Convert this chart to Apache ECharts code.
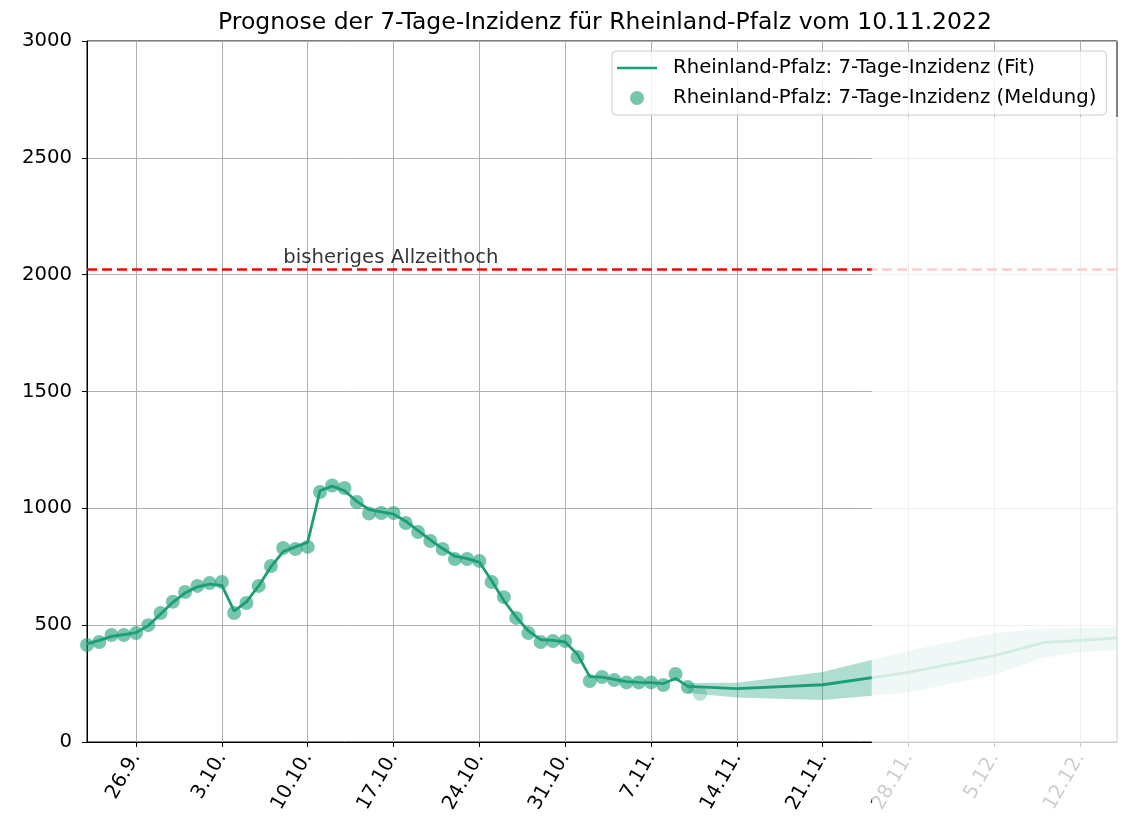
<!DOCTYPE html>
<html>
<head>
<meta charset="utf-8">
<script src="https://cdn.jsdelivr.net/npm/echarts@6/dist/echarts.min.js"></script>
<style>
html,body{margin:0;padding:0;background:#fff}
#chart{width:1123px;height:819px}
</style>
</head>
<body>
<div id="chart"></div>
<script>
var teal = '#1b9e77';
var schrift = 'DejaVu Sans';

// Meldungen der 7-Tage-Inzidenz, täglich ab 22.9.2022
var meldungStart = '2022-09-22';
var meldung = [415, 428, 458, 458, 466, 500, 552, 600, 642,
    668, 680, 685, 552, 595, 668, 753, 830, 826, 835,
    1070, 1098, 1087, 1027, 978, 980, 980, 937, 899, 860,
    826, 783, 783, 775, 685, 620, 531, 466, 428, 432, 432,
    364, 261, 278, 265, 255, 255, 255, 244, 291, 235];
// letzte (noch unvollständige) Meldung
var meldungVorlaeufigDatum = '2022-11-11';
var meldungVorlaeufig = 205;

// Fit über die Meldungen, gleicher Zeitraum
var fitHistorie = [420, 435, 452, 460, 468, 498, 548, 598, 638,
    664, 676, 670, 560, 600, 668, 750, 815, 835, 855,
    1075, 1095, 1075, 1030, 995, 985, 975, 945, 905, 865,
    828, 795, 785, 770, 690, 605, 535, 475, 438, 435, 428,
    375, 280, 278, 268, 258, 255, 254, 250, 272, 238];

// Prognose
var prognoseDaten = ['2022-11-10', '2022-11-14', '2022-11-21', '2022-11-28', '2022-12-05', '2022-12-09', '2022-12-12', '2022-12-15'];
var prognoseFit  = [238, 228, 245, 298, 370, 425, 435, 445];
var bandUnten    = [210, 190, 180, 212, 287, 360, 385, 394];
var bandOben     = [252, 254, 300, 390, 466, 485, 488, 490];

var allzeithoch = 2024;
var allzeithochText = 'bisheriges Allzeithoch';
var allzeithochTextDatum = '2022-10-08';

var tickDaten = ['2022-09-26', '2022-10-03', '2022-10-10', '2022-10-17', '2022-10-24', '2022-10-31',
    '2022-11-07', '2022-11-14', '2022-11-21', '2022-11-28', '2022-12-05', '2022-12-12'];
var xMin = '2022-09-22';
var xMax = '2022-12-15';
var ausblendenAb = '2022-11-25';

var nameFit = 'Rheinland-Pfalz: 7-Tage-Inzidenz (Fit)';
var nameMeldung = 'Rheinland-Pfalz: 7-Tage-Inzidenz (Meldung)';

function tag(s){
    var p = s.split('-');
    return new Date(+p[0], p[1]-1, +p[2]).getTime();
}
var DAY = 86400000;

var meldungDaten = [];
for(var i=0;i<meldung.length;i++){
    meldungDaten.push([tag(meldungStart)+i*DAY, meldung[i]]);
}
var fitDaten = [];
for(var i=0;i<fitHistorie.length;i++){
    fitDaten.push([tag(meldungStart)+i*DAY, fitHistorie[i]]);
}
for(var i=1;i<prognoseDaten.length;i++){
    fitDaten.push([tag(prognoseDaten[i]), prognoseFit[i]]);
}
var bandDaten = [];
for(var i=0;i<prognoseDaten.length;i++){
    bandDaten.push([tag(prognoseDaten[i]), bandUnten[i], bandOben[i]]);
}
var ticks = tickDaten.map(tag);

var myChart = echarts.init(document.getElementById('chart'), null, {renderer:'canvas'});

var option = {
    animation: false,
    backgroundColor: '#fff',
    textStyle: {fontFamily: schrift},
    title: {
        text: 'Prognose der 7-Tage-Inzidenz für Rheinland-Pfalz vom 10.11.2022',
        left: 213, top: 6,
        textStyle: {fontFamily: schrift, fontSize: 23.5, fontWeight: 'normal', color: '#000'}
    },
    grid: {
        left: 87, right: 6, top: 41, bottom: 77,
        show: true, borderColor: '#000', borderWidth: 1, backgroundColor: 'transparent'
    },
    legend: {
        orient: 'vertical',
        left: 612, top: 51,
        padding: [7, 10, 7, 5],
        itemGap: 10,
        itemWidth: 40, itemHeight: 14,
        backgroundColor: 'rgba(255,255,255,0.8)',
        borderColor: '#cccccc', borderWidth: 1, borderRadius: 4,
        textStyle: {fontFamily: schrift, fontSize: 19.7, color: '#000', padding: [0,0,0,11]},
        data: [
            {name: nameFit, icon: 'path://M0,0 L40,0 L40,2.5 L0,2.5 Z'},
            {name: nameMeldung, icon: 'circle'}
        ]
    },
    xAxis: {
        type: 'value',
        min: tag(xMin), max: tag(xMax),
        axisLine: {show: true, lineStyle: {color: '#000', width: 1}},
        axisTick: {show: true, inside: false, length: 5, customValues: ticks, lineStyle: {color: '#000'}},
        axisLabel: {
            customValues: ticks,
            rotate: 60, margin: 12,
            fontFamily: schrift, fontSize: 19.7, color: '#000',
            formatter: function(v){
                var d = new Date(v);
                return d.getDate() + '.' + (d.getMonth()+1) + '.';
            }
        },
        splitLine: {show: true, lineStyle: {color: '#b0b0b0', width: 1}}
    },
    yAxis: {
        type: 'value',
        min: 0, max: 3000, interval: 500,
        axisLine: {show: true, lineStyle: {color: '#000', width: 1}},
        axisTick: {show: true, inside: false, length: 5, lineStyle: {color: '#000'}},
        axisLabel: {
            margin: 15, fontFamily: schrift, fontSize: 19.7, color: '#000',
            formatter: function(v){ return String(v); }
        },
        splitLine: {show: true, lineStyle: {color: '#b0b0b0', width: 1}}
    },
    series: [
        {
            name: 'Band',
            type: 'custom',
            z: 1,
            clip: true,
            silent: true,
            data: bandDaten,
            renderItem: function(params, api){
                if(params.dataIndex !== 0) return null;
                var pts = [];
                for(var i=0;i<bandDaten.length;i++){
                    pts.push(api.coord([bandDaten[i][0], bandDaten[i][2]]));
                }
                for(var i=bandDaten.length-1;i>=0;i--){
                    pts.push(api.coord([bandDaten[i][0], bandDaten[i][1]]));
                }
                return {
                    type: 'polygon',
                    shape: {points: pts},
                    style: {fill: teal, opacity: 0.35}
                };
            }
        },
        {
            name: nameMeldung,
            type: 'scatter',
            z: 2,
            symbol: 'circle',
            symbolSize: 14,
            itemStyle: {color: teal, opacity: 0.6},
            data: meldungDaten
        },
        {
            name: 'vorlaeufig',
            type: 'scatter',
            z: 2,
            symbol: 'circle',
            symbolSize: 14,
            itemStyle: {color: teal, opacity: 0.3},
            data: [[tag(meldungVorlaeufigDatum), meldungVorlaeufig]]
        },
        {
            name: nameFit,
            type: 'line',
            z: 3,
            symbol: 'none',
            lineStyle: {color: teal, width: 2.8},
            itemStyle: {color: teal},
            data: fitDaten,
            markLine: {
                silent: true,
                symbol: 'none',
                label: {show: false},
                lineStyle: {color: '#ff0000', width: 2.5, type: [10, 5]},
                data: [{yAxis: allzeithoch}]
            }
        },
        {
            name: 'allzeithochText',
            type: 'scatter',
            z: 4,
            symbolSize: 0,
            silent: true,
            label: {
                show: true,
                position: [0, -21],
                formatter: allzeithochText,
                fontFamily: schrift, fontSize: 19.7, color: '#000'
            },
            data: [[tag(allzeithochTextDatum), allzeithoch]]
        }
    ]
};
myChart.setOption(option);

// rechter Bereich (nach der Prognose) wird blass überdeckt
var fadeX = myChart.convertToPixel({xAxisIndex: 0}, tag(ausblendenAb));
myChart.setOption({
    graphic: [{
        type: 'rect',
        z: 100,
        silent: true,
        shape: {x: fadeX, y: 117, width: 1123 - fadeX, height: 819 - 117},
        style: {fill: 'rgba(255,255,255,0.8)'}
    }]
});
</script>
</body>
</html>
